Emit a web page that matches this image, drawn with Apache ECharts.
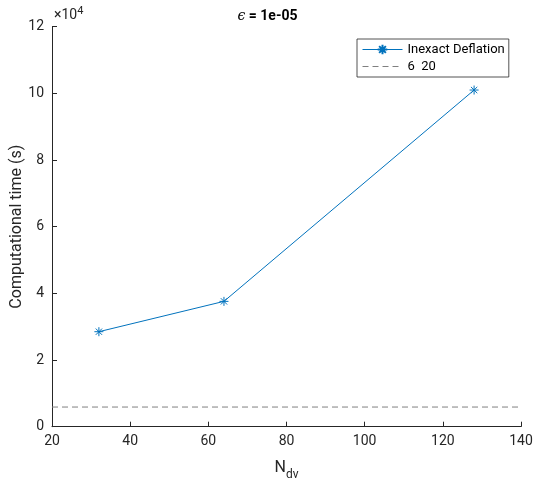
<!DOCTYPE html>
<html>
<head>
<meta charset="utf-8">
<script src="https://cdn.jsdelivr.net/npm/echarts@6/dist/echarts.min.js"></script>
<style>html,body{margin:0;padding:0;background:#fff;}#c{width:535px;height:482px;}</style>
</head>
<body>
<div id="c"></div>
<script>
const xValues = [32, 64, 128];
const timeValues = [28500, 37600, 101000];
const refLineX = [20, 140];
const refLineY = [5900, 5900];
const xTicks = [20, 40, 60, 80, 100, 120, 140];
const yTicks = [0, 2, 4, 6, 8, 10, 12];
const seriesNames = ['Inexact Deflation', '6  20'];

const chart = echarts.init(document.getElementById('c'), null, {renderer: 'canvas'});
const axisColor = '#262626';
const font = 'Roboto, "Liberation Sans", sans-serif';
const star = 'path://M0,-10L0,10M-10,0L10,0M-7,-7L7,7M-7,7L7,-7';

chart.setOption({
  animation: false,
  title: {
    text: '{i|ϵ} = 1e-05',
    left: 'center', top: 4,
    textStyle: {
      fontFamily: font, fontSize: 14, fontWeight: 'bold', color: '#000',
      rich: { i: { fontFamily: '"DejaVu Serif", serif', fontStyle: 'italic', fontSize: 14, fontWeight: 'normal', color: '#000' } }
    }
  },
  grid: { left: 52, right: 14, top: 26.7, bottom: 55.3, containLabel: false, outerBoundsMode: 'none' },
  legend: {
    orient: 'vertical', left: 357, top: 39,
    width: 150,
    padding: [4, 4, 4, 5], itemGap: 4,
    itemWidth: 40, itemHeight: 12,
    borderColor: '#262626', borderWidth: 0.8,
    backgroundColor: '#fff',
    lineStyle: { width: 1 },
    textStyle: { fontFamily: font, fontSize: 13, color: '#000' },
    data: [
      { name: seriesNames[0] },
      { name: seriesNames[1], itemStyle: { opacity: 0 } }
    ]
  },
  xAxis: {
    type: 'value', min: xTicks[0], max: xTicks[xTicks.length - 1], interval: 20,
    name: '{n|N}{s|dv}', nameLocation: 'middle', nameGap: 28,
    nameTextStyle: {
      rich: {
        n: { fontFamily: font, fontSize: 16, color: axisColor },
        s: { fontFamily: font, fontSize: 12, color: axisColor, verticalAlign: 'bottom', padding: [14, 0, 0, 0] }
      }
    },
    axisLine: { show: true, lineStyle: { color: axisColor, width: 1 } },
    axisTick: { show: true, inside: true, length: 5, lineStyle: { color: axisColor } },
    axisLabel: { fontFamily: font, fontSize: 14, color: axisColor, margin: 8 },
    splitLine: { show: false }
  },
  yAxis: {
    type: 'value', min: 0, max: 120000, interval: 20000,
    name: 'Computational time (s)', nameLocation: 'middle', nameGap: 27,
    nameMoveOverlap: false,
    nameTextStyle: { fontFamily: font, fontSize: 16, color: axisColor },
    axisLine: { show: true, lineStyle: { color: axisColor, width: 1 } },
    axisTick: { show: true, inside: true, length: 5, lineStyle: { color: axisColor } },
    axisLabel: { fontFamily: font, fontSize: 14, color: axisColor, margin: 8,
      formatter: v => String(v / 10000) },
    splitLine: { show: false }
  },
  graphic: [{
    type: 'text', left: 54, top: 6,
    style: {
      text: '{a|×10}{b|4}',
      rich: {
        a: { fontFamily: font, fontSize: 14, fill: axisColor },
        b: { fontFamily: font, fontSize: 11, fill: axisColor, verticalAlign: 'top', padding: [0, 0, 8, 0] }
      }
    }
  }],
  series: [
    {
      name: seriesNames[0], type: 'line',
      data: xValues.map((x, i) => [x, timeValues[i]]),
      symbol: star, symbolSize: 9, showSymbol: true,
      lineStyle: { color: '#0072BD', width: 1 },
      itemStyle: { color: '#0072BD', borderColor: '#0072BD', borderWidth: 1 },
      emphasis: { disabled: true }
    },
    {
      name: seriesNames[1], type: 'line',
      data: refLineX.map((x, i) => [x, refLineY[i]]),
      symbol: 'none',
      lineStyle: { color: '#808080', width: 1, type: [6, 4] },
      itemStyle: { color: '#808080' },
      emphasis: { disabled: true }
    }
  ]
});
</script>
</body>
</html>
